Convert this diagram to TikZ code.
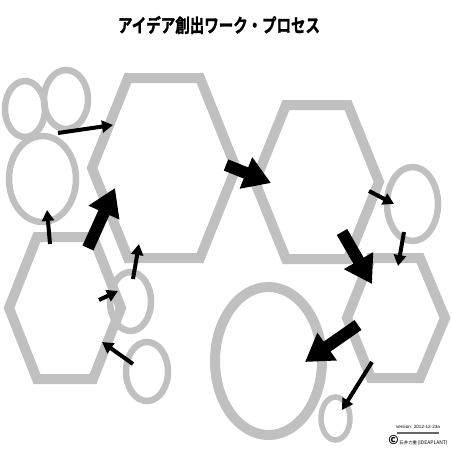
\documentclass[tikz,border=0pt]{standalone}
\usepackage{fontspec}
\setmainfont{Liberation Sans}
\newfontfamily\jpfont{Noto Sans CJK JP}
\newfontfamily\jptitle{Noto Sans CJK JP Bold}[FakeBold=1.5]
\usetikzlibrary{shapes.geometric, arrows.meta}
\definecolor{hexgray}{RGB}{192,192,192}
\tikzset{
	hexa/.style={draw=hexgray, line width=10pt},
	bubble/.style={ellipse, draw=hexgray, line width=6.5pt, inner sep=0pt},
	thinarrow/.style={line width=4pt, -{Triangle[length=11pt,width=12pt]}},
	thickarrow/.style={line width=12pt, -{Triangle[length=27pt,width=32pt]}}
}

\begin{document}
\begin{tikzpicture}[x=1pt, y=-1pt]
		\useasboundingbox (0,0) rectangle (452,452);
		\node (title)[font=\jptitle\fontsize{14.5}{16}\selectfont, yscale=1.3, transform shape]at (219,25) {アイデア創出ワーク・プロセス};

		% hexagons
		\draw [hexa](92,168)--(128,78)--(200,78)--(236,168)--(200,258)--(128,258)--cycle;
		\draw [hexa](255,182)--(286,105)--(348,105)--(379,182)--(348,259)--(286,259)--cycle;
		\draw [hexa](9,308)--(37,237)--(93,237)--(121,308)--(93,379)--(37,379)--cycle;
		\draw [hexa](347,318)--(371,258)--(420,258)--(445,318)--(420,378)--(371,378)--cycle;

		% bubbles
		\node (e1)[bubble, minimum width=40pt, minimum height=56pt]at (25,109)  {};
		\node (e2)[bubble, minimum width=44pt, minimum height=59pt]at (66,99.5)  {};
		\node (e3)[bubble, minimum width=67pt, minimum height=86pt]at (42.5,179)  {};
		\node (e4)[bubble, minimum width=41pt, minimum height=59pt]at (130.5,301.5)  {};
		\node (e5)[bubble, minimum width=42pt, minimum height=59pt]at (147,371.5)  {};
		\node (e6)[bubble, minimum width=51pt, minimum height=74pt]at (412.5,204)  {};
		\node (e7)[bubble, line width=10pt, minimum width=107pt, minimum height=148pt]at (268.5,361)  {};
		\node (e8)[bubble, line width=5.5pt, minimum width=29pt, minimum height=43pt]at (335.5,418.5)  {};

		% arrow ends
		\coordinate (p1) at (58,133);   \coordinate (q1) at (113,125);
		\coordinate (p2) at (50,244);   \coordinate (q2) at (47,210);
		\coordinate (p3) at (133,279);  \coordinate (q3) at (139,244);
		\coordinate (p4) at (99,300);   \coordinate (q4) at (118,291);
		\coordinate (p5) at (133,364);  \coordinate (q5) at (102,342);
		\coordinate (p6) at (369,191);  \coordinate (q6) at (394,204);
		\coordinate (p7) at (404,232);  \coordinate (q7) at (398,266);
		\coordinate (p8) at (372,362);  \coordinate (q8) at (342,410);
		\coordinate (s1) at (88,248);   \coordinate (t1) at (115,188);
		\coordinate (s2) at (226,165);  \coordinate (t2) at (271,183);
		\coordinate (s3) at (342,232);  \coordinate (t3) at (372,284);
		\coordinate (s4) at (358,325);  \coordinate (t4) at (305,362);

		\foreach \i in {1,...,8}
			\draw [thinarrow](p\i)--(q\i);
		\foreach \i in {1,...,4}
			\draw [thickarrow](s\i)--(t\i);

		% version note
		\node (ver)[font=\fontsize{4.6}{5}\selectfont]at (418,427) {version: 2012-12-23a};
		\coordinate (l1) at (397,433);  \coordinate (l2) at (439,433);
		\draw [line width=1.2pt, black!60](l1)--(l2);
		\node (owner)[font=\jpfont\fontsize{4.4}{5}\selectfont]at (418,440) {{\bfseries\large ©}\,石井力重\,{\tiny (IDEAPLANT)}};
	\end{tikzpicture}
\end{document}
